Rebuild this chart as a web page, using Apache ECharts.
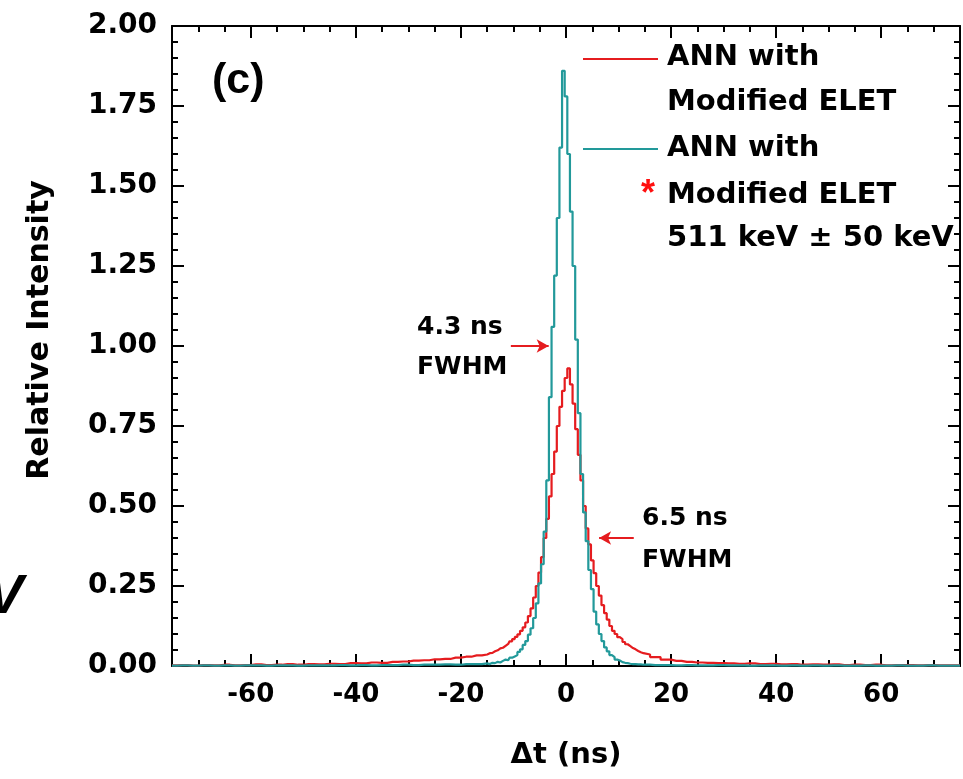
<!DOCTYPE html>
<html>
<head>
<meta charset="utf-8">
<title>ANN with Modified ELET</title>
<script src="https://cdn.jsdelivr.net/npm/echarts@6/dist/echarts.min.js"></script>
<style>
  html, body { margin: 0; padding: 0; background: #fff; }
  #chart { width: 963px; height: 779px; }
</style>
</head>
<body>
<div id="chart"></div>
<script>
// time bins (ns): coarse in the tails, 0.5 ns near the peak
const timeBins = [
  -75, -73, -71, -69, -67, -65, -63, -61, -59, -57, -55, -53, -51, -49, -47,
  -45, -43, -41, -39, -37, -35, -33, -31, -29, -27, -25, -23, -21, -19, -17,
  -15, -14.5, -14, -13.5, -13, -12.5, -12, -11.5, -11, -10.5, -10, -9.5, -9, -8.5, -8,
  -7.5, -7, -6.5, -6, -5.5, -5, -4.5, -4, -3.5, -3, -2.5, -2, -1.5, -1, -0.5,
  0, 0.5, 1, 1.5, 2, 2.5, 3, 3.5, 4, 4.5, 5, 5.5, 6, 6.5, 7,
  7.5, 8, 8.5, 9, 9.5, 10, 10.5, 11, 11.5, 12, 12.5, 13, 13.5, 14, 14.5, 15,
  17, 19, 21, 23, 25, 27, 29, 31, 33, 35, 37, 39, 41, 43, 45,
  47, 49, 51, 53, 55, 57, 59, 61, 63, 65, 67, 69, 71, 73, 75
]

// ANN with Modified ELET (red)
const redCounts = [
  0.002, 0.003, 0.001, 0.003, 0.002, 0.004, 0.002, 0.003, 0.005, 0.003, 0.004, 0.006, 0.004, 0.006, 0.005,
  0.007, 0.006, 0.009, 0.008, 0.011, 0.010, 0.013, 0.014, 0.017, 0.018, 0.021, 0.022, 0.026, 0.029, 0.033,
  0.036, 0.040, 0.041, 0.046, 0.049, 0.055, 0.057, 0.063, 0.069, 0.077, 0.084, 0.091, 0.099, 0.110, 0.121,
  0.136, 0.156, 0.180, 0.214, 0.250, 0.292, 0.340, 0.400, 0.460, 0.530, 0.600, 0.670, 0.750, 0.810, 0.860,
  0.900, 0.930, 0.880, 0.820, 0.740, 0.660, 0.580, 0.500, 0.430, 0.380, 0.330, 0.290, 0.250, 0.220, 0.190,
  0.165, 0.145, 0.125, 0.110, 0.100, 0.090, 0.084, 0.075, 0.068, 0.062, 0.056, 0.052, 0.047, 0.043, 0.040, 0.036,
  0.028, 0.020, 0.016, 0.013, 0.011, 0.010, 0.009, 0.008, 0.007, 0.008, 0.006, 0.007, 0.005, 0.006, 0.004,
  0.005, 0.004, 0.005, 0.003, 0.004, 0.003, 0.004, 0.002, 0.003, 0.003, 0.002, 0.003, 0.002, 0.002, 0.002
]

// ANN with Modified ELET, 511 keV ± 50 keV (teal)
const tealCounts = [
  0.001, 0.002, 0.001, 0.002, 0.001, 0.002, 0.001, 0.002, 0.002, 0.001, 0.002, 0.002, 0.001, 0.002, 0.002,
  0.002, 0.003, 0.002, 0.003, 0.002, 0.003, 0.003, 0.004, 0.003, 0.004, 0.004, 0.005, 0.004, 0.006, 0.006,
  0.008, 0.006, 0.010, 0.009, 0.013, 0.011, 0.016, 0.020, 0.018, 0.026, 0.030, 0.034, 0.044, 0.052, 0.066,
  0.078, 0.098, 0.118, 0.150, 0.196, 0.258, 0.318, 0.420, 0.580, 0.840, 1.060, 1.220, 1.400, 1.620, 1.860,
  1.780, 1.600, 1.420, 1.250, 1.020, 0.790, 0.600, 0.480, 0.390, 0.300, 0.240, 0.170, 0.130, 0.100, 0.078,
  0.058, 0.046, 0.034, 0.028, 0.020, 0.017, 0.012, 0.010, 0.009, 0.007, 0.006, 0.006, 0.005, 0.005, 0.004, 0.004,
  0.003, 0.003, 0.002, 0.003, 0.002, 0.002, 0.003, 0.002, 0.002, 0.001, 0.002, 0.002, 0.001, 0.002, 0.001,
  0.002, 0.001, 0.002, 0.001, 0.001, 0.002, 0.001, 0.001, 0.002, 0.001, 0.001, 0.002, 0.001, 0.001, 0.001
]

const xMajorTicks = [-60, -40, -20, 0, 20, 40, 60]
const redName = 'ANN with Modified ELET'
const tealName = 'ANN with Modified ELET 511 keV ± 50 keV'

// the figure text is wide, DejaVu Sans Bold matches its widths best
const font = 'DejaVu Sans, Liberation Sans, Arial, sans-serif'
const redColor = '#e51c1f'
const tealColor = '#22999a'

function pairs (xs, ys) {
  return xs.map((x, i) => [x, ys[i]])
}

function xAxisBase (pos) {
  return {
    type: 'value',
    position: pos,
    min: -75,
    max: 75,
    interval: 5,
    axisLine: { show: true, onZero: false, lineStyle: { color: '#000', width: 2 } },
    axisTick: { show: true, inside: true, length: 6, lineStyle: { color: '#000', width: 2 } },
    axisLabel: { show: false },
    splitLine: { show: false }
  }
}

// second axis on the same side only draws the long (major) ticks
function xMajorAxis (pos) {
  return {
    type: 'value',
    position: pos,
    min: -75,
    max: 75,
    interval: 5,
    axisLine: { show: false, onZero: false },
    axisTick: { show: true, inside: true, length: 12, customValues: xMajorTicks, lineStyle: { color: '#000', width: 2 } },
    axisLabel: { show: false },
    splitLine: { show: false }
  }
}

function yAxisBase (pos) {
  return {
    type: 'value',
    position: pos,
    min: 0,
    max: 2,
    interval: 0.25,
    axisLine: { show: true, onZero: false, lineStyle: { color: '#000', width: 2 } },
    axisTick: { show: true, inside: true, length: 12, lineStyle: { color: '#000', width: 2 } },
    minorTick: { show: true, splitNumber: 5, length: 6, lineStyle: { color: '#000', width: 2 } },
    axisLabel: { show: false },
    splitLine: { show: false },
    minorSplitLine: { show: false }
  }
}

let bottomAxis = xAxisBase('bottom')
bottomAxis.axisLabel = {
  show: true,
  margin: 16,
  color: '#000',
  fontFamily: font,
  fontWeight: 'bold',
  fontSize: 26,
  formatter: v => (xMajorTicks.indexOf(v) >= 0 ? String(v) : '')
}
bottomAxis.name = 'Δt (ns)'
bottomAxis.nameLocation = 'middle'
bottomAxis.nameGap = 75
bottomAxis.nameTextStyle = { color: '#000', fontFamily: font, fontWeight: 'bold', fontSize: 29 }

let leftAxis = yAxisBase('left')
leftAxis.axisLabel = {
  show: true,
  margin: 15,
  color: '#000',
  fontFamily: font,
  fontWeight: 'bold',
  fontSize: 28,
  formatter: v => v.toFixed(2)
}
leftAxis.name = 'Relative Intensity'
leftAxis.nameLocation = 'middle'
leftAxis.nameGap = 117
leftAxis.nameTextStyle = { color: '#000', fontFamily: font, fontWeight: 'bold', fontSize: 30, padding: [0, 0, 0, 32] }

const textStyle = (size) => ({ fill: '#000', font: 'bold ' + size + 'px ' + font })

let myChart = echarts.init(document.getElementById('chart'), null, { renderer: 'canvas' })
let option = {
  animation: false,
  backgroundColor: '#fff',
  grid: { left: 172, top: 26, width: 795, height: 640 },
  xAxis: [bottomAxis, xMajorAxis('bottom'), xAxisBase('top'), xMajorAxis('top')],
  yAxis: [leftAxis, yAxisBase('right')],
  series: [
    {
      name: redName,
      type: 'line',
      step: 'middle',
      symbol: 'none',
      xAxisIndex: 0,
      yAxisIndex: 0,
      lineStyle: { color: redColor, width: 2.2 },
      data: pairs(timeBins, redCounts),
      markLine: {
        silent: true,
        symbol: ['none', 'arrow'],
        symbolSize: [10, 12],
        label: { show: false },
        lineStyle: { color: redColor, width: 2, type: 'solid' },
        data: [
          [{ coord: [-10.5, 1.0] }, { coord: [-3.3, 1.0] }],
          [{ coord: [12.9, 0.4] }, { coord: [6.3, 0.4] }]
        ]
      }
    },
    {
      name: tealName,
      type: 'line',
      step: 'middle',
      symbol: 'none',
      xAxisIndex: 0,
      yAxisIndex: 0,
      lineStyle: { color: tealColor, width: 2.2 },
      data: pairs(timeBins, tealCounts)
    }
  ],
  graphic: [
    { type: 'text', left: 212, top: 60, style: { text: '(c)', fill: '#000', font: 'bold 43px Liberation Sans, Arial, sans-serif' } },
    // legend
    { type: 'line', shape: { x1: 583, y1: 59, x2: 658, y2: 59 }, style: { stroke: redColor, lineWidth: 2 } },
    { type: 'text', x: 667, y: 57, style: Object.assign(textStyle(29), { text: 'ANN with', verticalAlign: 'middle' }) },
    { type: 'text', x: 667, y: 102, style: Object.assign(textStyle(29), { text: 'Modified ELET', verticalAlign: 'middle' }) },
    { type: 'line', shape: { x1: 583, y1: 149, x2: 658, y2: 149 }, style: { stroke: tealColor, lineWidth: 2 } },
    { type: 'text', x: 667, y: 148, style: Object.assign(textStyle(29), { text: 'ANN with', verticalAlign: 'middle' }) },
    { type: 'text', x: 648, y: 195, style: { text: '*', fill: '#ff1010', font: 'bold 36px Liberation Sans, Arial, sans-serif', align: 'center', verticalAlign: 'middle' } },
    { type: 'text', x: 667, y: 195, style: Object.assign(textStyle(29), { text: 'Modified ELET', verticalAlign: 'middle' }) },
    { type: 'text', x: 667, y: 238, style: Object.assign(textStyle(29), { text: '511 keV ± 50 keV', verticalAlign: 'middle' }) },
    // FWHM notes
    { type: 'text', x: 417, y: 327, style: Object.assign(textStyle(25), { text: '4.3 ns', verticalAlign: 'middle' }) },
    { type: 'text', x: 417, y: 367, style: Object.assign(textStyle(25), { text: 'FWHM', verticalAlign: 'middle' }) },
    { type: 'text', x: 642, y: 518, style: Object.assign(textStyle(25), { text: '6.5 ns', verticalAlign: 'middle' }) },
    { type: 'text', x: 642, y: 560, style: Object.assign(textStyle(25), { text: 'FWHM', verticalAlign: 'middle' }) },
    // edge of the neighbouring panel
    { type: 'text', x: -14, y: 598, style: { text: 'V', fill: '#000', font: 'italic bold 56px Liberation Sans, Arial, sans-serif', verticalAlign: 'middle' } }
  ]
}
myChart.setOption(option, true)
</script>
</body>
</html>
